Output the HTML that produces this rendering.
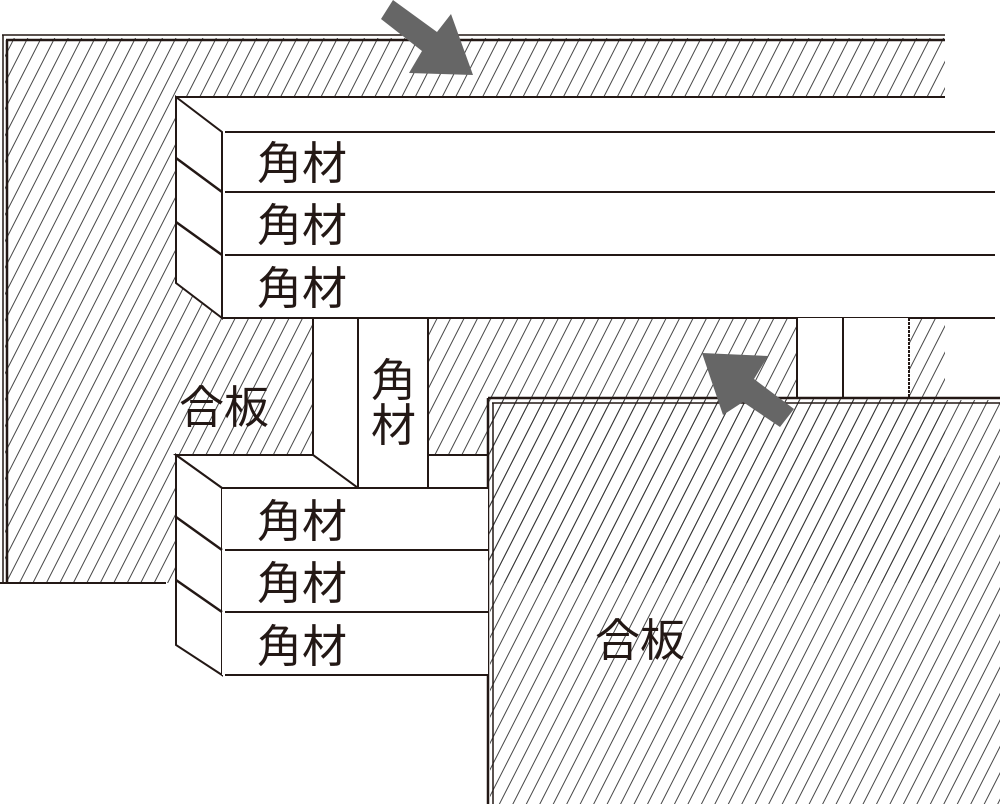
<!DOCTYPE html>
<html><head><meta charset="utf-8"><style>
html,body{margin:0;padding:0;background:#fff;}
svg{display:block;}
text{font-family:"Liberation Sans","Noto Sans CJK JP",sans-serif;fill:#231815;}
</style></head><body>
<svg width="1000" height="804" viewBox="0 0 1000 804" xmlns="http://www.w3.org/2000/svg">
<defs>
<pattern id="h" width="12" height="12" patternUnits="userSpaceOnUse" patternTransform="rotate(27)">
<line x1="6" y1="0" x2="6" y2="12" stroke="#333" stroke-width="0.9"/>
</pattern>
</defs>
<g stroke="#231815" stroke-width="2" fill="#fff" stroke-linejoin="miter">
<rect x="5" y="38" width="940" height="545" fill="url(#h)" stroke="none"/>
<line x1="2" y1="35" x2="945" y2="35" stroke-width="1.5"/>
<line x1="6" y1="40" x2="945" y2="40" stroke-width="2.5"/>
<line x1="3" y1="35" x2="3" y2="583" stroke-width="1.5"/>
<line x1="7" y1="40" x2="7" y2="583" stroke-width="2.5"/>
<line x1="0" y1="583" x2="166" y2="583"/>

<rect x="176" y="97" width="830" height="35" stroke="none"/>
<rect x="222" y="132" width="780" height="186" stroke="none"/>
<polygon points="176,97 222,132 222,318 176,283"/>
<line x1="176" y1="97" x2="945" y2="97"/>
<line x1="225" y1="132" x2="995" y2="132"/>
<line x1="225" y1="192" x2="995" y2="192"/>
<line x1="225" y1="255" x2="995" y2="255"/>
<line x1="222" y1="318" x2="995" y2="318"/>
<line x1="176" y1="158" x2="222" y2="192" stroke-width="2.5"/>
<line x1="176" y1="222" x2="222" y2="255" stroke-width="2.5"/>

<polygon points="313,318 358,318 358,488 313,455"/>
<rect x="358" y="318" width="70" height="170"/>
<rect x="428" y="455" width="60" height="33"/>
<rect x="797" y="318" width="112" height="80" stroke="none"/>
<line x1="797" y1="318" x2="797" y2="398"/>
<line x1="843" y1="318" x2="843" y2="398"/>
<line x1="909" y1="318" x2="909" y2="398" stroke-dasharray="3,1"/>

<rect x="490" y="400" width="510" height="404" fill="url(#h)" stroke="none"/>
<line x1="488" y1="398" x2="1000" y2="398" stroke-width="2.5"/>
<line x1="492" y1="403" x2="1000" y2="403" stroke-width="1.5"/>
<line x1="488" y1="398" x2="488" y2="804" stroke-width="2.5"/>
<line x1="493" y1="403" x2="493" y2="804" stroke-width="1.5"/>

<polygon points="176,455 313,455 358,488 222,488"/>
<polygon points="176,455 222,488 222,675 176,645"/>
<rect x="222" y="488" width="266" height="187" stroke="none"/>
<line x1="222" y1="488" x2="488" y2="488"/>
<line x1="225" y1="550" x2="488" y2="550"/>
<line x1="225" y1="612" x2="488" y2="612"/>
<line x1="225" y1="675" x2="488" y2="675"/>
<line x1="176" y1="517" x2="222" y2="550" stroke-width="2.5"/>
<line x1="176" y1="580" x2="222" y2="612" stroke-width="2.5"/>
</g>

<polygon points="393,0 437,32 451,14 473,75 409,73 422,51 381,19" fill="#666"/>
<polygon points="702,353 768,356 754,379 794,409 780,427 743,402 723,415" fill="#666"/>

<g font-size="45">
<text x="257" y="179">角材</text>
<text x="257" y="241">角材</text>
<text x="257" y="304">角材</text>
<text x="257" y="537">角材</text>
<text x="257" y="599">角材</text>
<text x="257" y="662">角材</text>
<text x="371" y="396">角</text>
<text x="371" y="441">材</text>
<text x="179" y="423">合板</text>
<text x="595" y="656">合板</text>
</g>
</svg>
</body></html>
